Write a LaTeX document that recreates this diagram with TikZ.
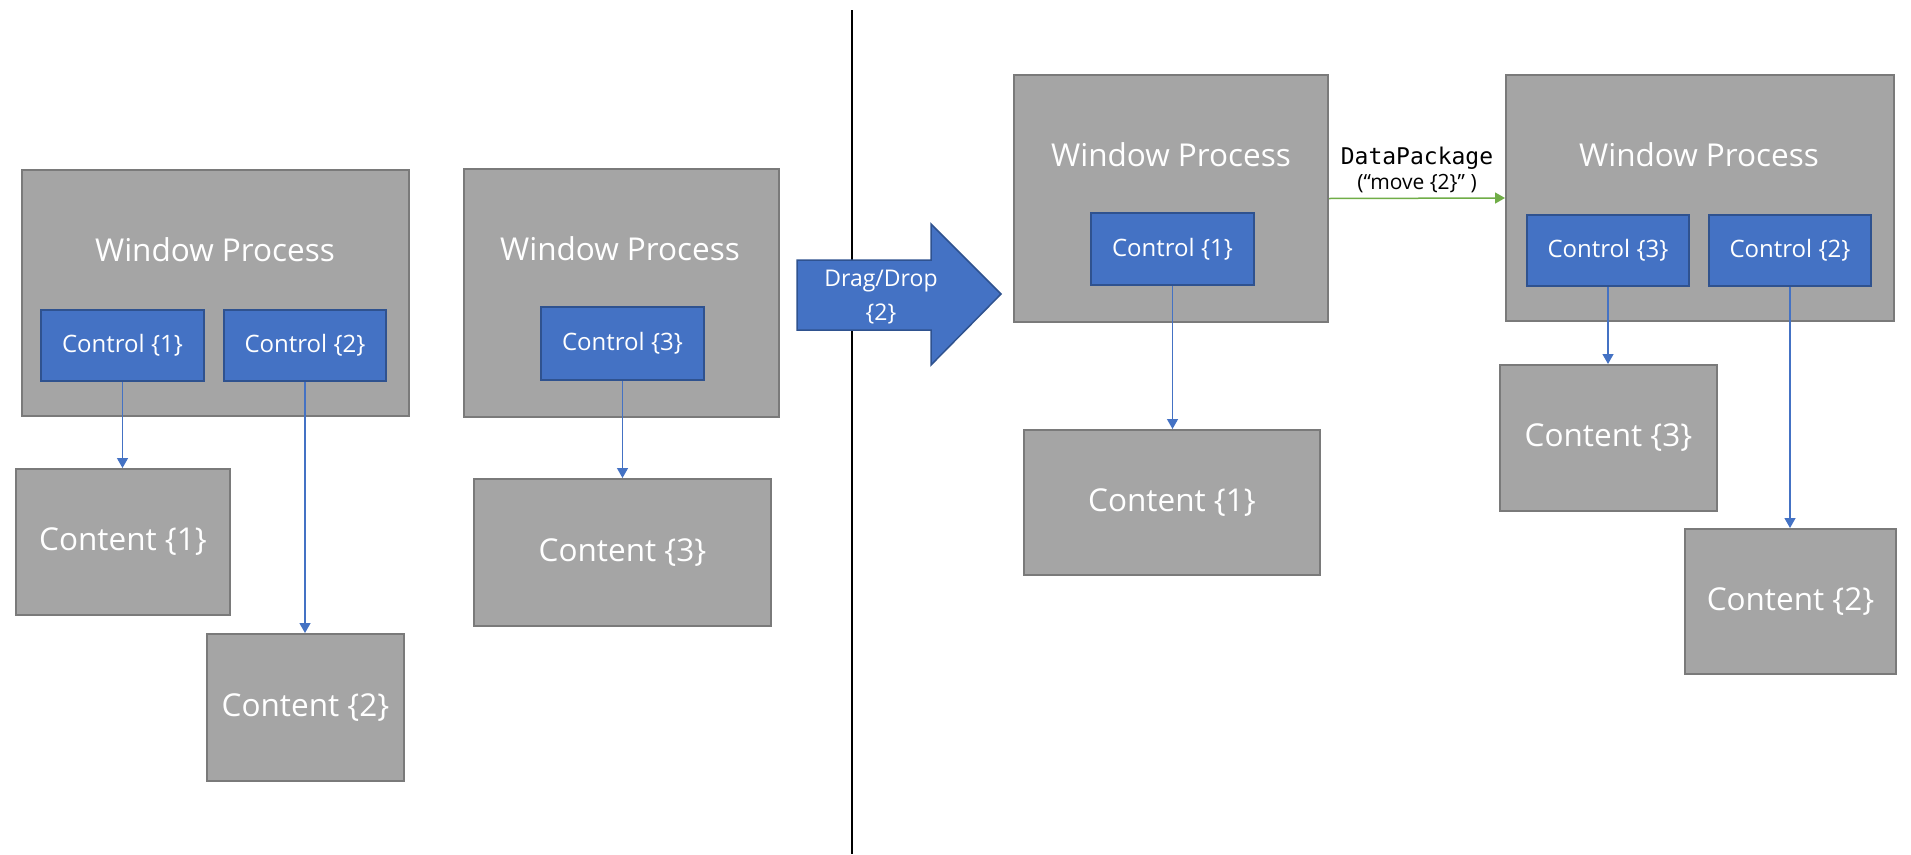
\documentclass[tikz,border=0pt]{standalone}
\usepackage{fontspec}
\setmainfont{Open Sans}
\newfontfamily\codefont{DejaVu Sans Mono}
\usetikzlibrary{arrows.meta,calc}
\definecolor{boxfill}{HTML}{A5A5A5}
\definecolor{boxline}{HTML}{7A7A7A}
\definecolor{ctlfill}{HTML}{4472C4}
\definecolor{ctlline}{HTML}{2F528F}
\definecolor{linkblue}{HTML}{4472C4}
\definecolor{msggreen}{HTML}{70AD47}
\tikzset{
  x=1pt, y=-1pt,
  win/.style={draw=boxline, line width=2pt, fill=boxfill, anchor=north west, inner sep=0pt},
  content/.style={draw=boxline, line width=2pt, fill=boxfill, anchor=north west, inner sep=0pt,
    text=white, font=\fontsize{31.5}{36}\selectfont},
  ctl/.style={draw=ctlline, line width=2pt, fill=ctlfill, anchor=north west, inner sep=0pt,
    text=white, font=\fontsize{24}{28}\selectfont},
  wintitle/.style={text=white, font=\fontsize{31.5}{36}\selectfont, inner sep=0pt},
  link/.style={draw=linkblue, line width=1.3pt, -{Triangle[width=11pt,length=10pt]}},
}
\begin{document}
\begin{tikzpicture}
\fill[white] (0,0) rectangle (1911,854);
\useasboundingbox (0,0) rectangle (1911,854);

% separator between the two states
\coordinate (sepTop) at (852,10);
\coordinate (sepBot) at (852,854);
\draw[black, line width=1.2pt] (sepTop) -- (sepBot);

% ---------- before ----------
\node[win, minimum width=387pt, minimum height=246pt] (w1) at (21,169) {};
\node[wintitle] (w1t) at (215,250) {Window Process};
\node[ctl, minimum width=163pt, minimum height=71pt] (c1) at (40,309) {Control \{1\}};
\node[ctl, minimum width=162pt, minimum height=71pt] (c2) at (223,309) {Control \{2\}};
\node[content, minimum width=214pt, minimum height=146pt] (t1) at (15,468) {Content \{1\}};
\node[content, minimum width=197pt, minimum height=147pt] (t2) at (206,633) {Content \{2\}};

\node[win, minimum width=315pt, minimum height=248pt] (w2) at (463,168) {};
\node[wintitle] (w2t) at (620,249) {Window Process};
\node[ctl, minimum width=163pt, minimum height=73pt] (c3) at (540,306) {Control \{3\}};
\node[content, minimum width=297pt, minimum height=147pt] (t3) at (473,478) {Content \{3\}};

\draw[link] (c1.south) -- (c1.south |- t1.north);
\draw[link] (c2.south) -- (c2.south |- t2.north);
\draw[link] (c3.south) -- (c3.south |- t3.north);

% ---------- drag / drop block arrow ----------
\draw[draw=ctlline, line width=1.5pt, fill=ctlfill, line join=miter]
  (797,260) -- (931,260) -- (931,224) -- (1001,294) -- (931,365) -- (931,330) -- (797,330) -- cycle;
\node[text=white, align=center, font=\fontsize{23}{34}\selectfont, inner sep=0pt] (dd) at (881,297)
  {Drag/Drop\\\{2\}};

% ---------- after ----------
\node[win, minimum width=314pt, minimum height=247pt] (w3) at (1013,74) {};
\node[wintitle] (w3t) at (1171,155) {Window Process};
\node[ctl, minimum width=163pt, minimum height=72pt] (c1b) at (1090,212) {Control \{1\}};
\node[content, minimum width=296pt, minimum height=145pt] (t1b) at (1023,429) {Content \{1\}};

\node[win, minimum width=388pt, minimum height=246pt] (w4) at (1505,74) {};
\node[wintitle] (w4t) at (1699,155) {Window Process};
\node[ctl, minimum width=162pt, minimum height=71pt] (c3b) at (1526,214) {Control \{3\}};
\node[ctl, minimum width=162pt, minimum height=71pt] (c2b) at (1708,214) {Control \{2\}};
\node[content, minimum width=217pt, minimum height=146pt] (t3b) at (1499,364) {Content \{3\}};
\node[content, minimum width=211pt, minimum height=145pt] (t2b) at (1684,528) {Content \{2\}};

\draw[link] (c1b.south) -- (c1b.south |- t1b.north);
\draw[link] (c3b.south) -- (c3b.south |- t3b.north);
\draw[link] (c2b.south) -- (c2b.south |- t2b.north);

% message between the two window processes
\draw[draw=msggreen, line width=1.5pt, -{Triangle[width=11pt,length=10pt]}] (w3.east) -- (w4.west);
\node[inner sep=0pt, font=\codefont\fontsize{23}{26}\selectfont] (msg) at (1417,158) {DataPackage};
\node[inner sep=0pt, font=\fontsize{21}{24}\selectfont] (msgarg) at (1417,184) {(“move \{2\}” )};
\end{tikzpicture}
\end{document}
